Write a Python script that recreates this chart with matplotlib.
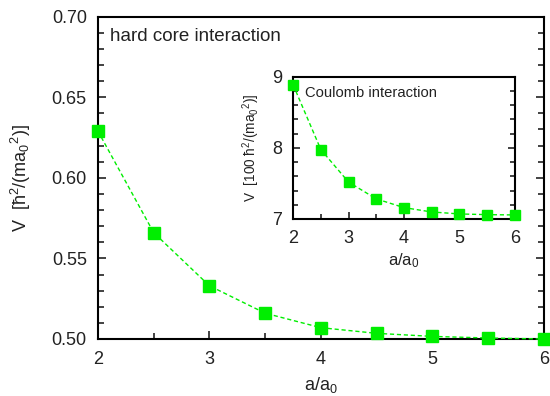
import matplotlib
matplotlib.use("Agg")
import matplotlib.pyplot as plt
from matplotlib.ticker import MultipleLocator

plt.rcParams["font.family"] = ["Liberation Sans", "DejaVu Sans"]
plt.rcParams["mathtext.fontset"] = "custom"
plt.rcParams["mathtext.rm"] = "Liberation Sans"
plt.rcParams["mathtext.it"] = "Liberation Sans"

# lattice spacing a/a0
a_ratio = [2.0, 2.5, 3.0, 3.5, 4.0, 4.5, 5.0, 5.5, 6.0]
# hard core potential depth
v_hard = [0.629, 0.566, 0.533, 0.516, 0.507, 0.5035, 0.5016, 0.5006, 0.5000]
# coulomb potential depth, in units of 100
v_coul = [8.887, 7.976, 7.519, 7.283, 7.160, 7.099, 7.071, 7.061, 7.057]

GREEN = "#00ee00"
INK = "#222222"

fig = plt.figure(figsize=(5.5, 3.96), dpi=100)
ax = fig.add_axes([0.178, 0.144, 0.811, 0.814])

ax.plot(a_ratio, v_hard, ls=(0, (3, 2)), lw=1.0, color=GREEN,
        marker="s", ms=9, mec=GREEN, mfc=GREEN, clip_on=False, zorder=3)
ax.set_xlim(2, 6)
ax.set_ylim(0.5, 0.7)
ax.xaxis.set_major_locator(MultipleLocator(1))
ax.xaxis.set_minor_locator(MultipleLocator(0.5))
ax.yaxis.set_major_locator(MultipleLocator(0.05))
ax.yaxis.set_minor_locator(MultipleLocator(0.01))
ax.yaxis.set_major_formatter(plt.FormatStrFormatter("%.2f"))
ax.tick_params(which="both", direction="in", right=True, top=False,
               labelsize=13, colors=INK)
ax.tick_params(axis="x", pad=9)
ax.tick_params(axis="y", pad=8)
ax.tick_params(which="major", length=6, width=1.2)
ax.tick_params(which="minor", length=4, width=1.2)
for s in ax.spines.values():
    s.set_linewidth(1.5)
ax.set_xlabel("a/a$_0$", fontsize=13, color=INK, labelpad=5)
ax.set_ylabel("V  [ħ$^2$/(ma$_0$$^2$)]", fontsize=13, color=INK, labelpad=13)
ax.text(0.027, 0.925, "hard core interaction", transform=ax.transAxes,
        fontsize=13.5, va="baseline", ha="left", color=INK)

ins = fig.add_axes([0.533, 0.447, 0.403, 0.359])
ins.plot(a_ratio, v_coul, ls=(0, (3, 2)), lw=1.0, color=GREEN,
         marker="s", ms=6.5, mec=GREEN, mfc=GREEN, clip_on=False, zorder=3)
ins.set_xlim(2, 6)
ins.set_ylim(7, 9)
ins.xaxis.set_major_locator(MultipleLocator(1))
ins.xaxis.set_minor_locator(MultipleLocator(0.5))
ins.yaxis.set_major_locator(MultipleLocator(1))
ins.yaxis.set_minor_locator(MultipleLocator(0.2))
ins.tick_params(which="both", direction="in", right=True, top=False,
                labelsize=13, colors=INK)
ins.tick_params(axis="x", pad=8)
ins.tick_params(axis="y", pad=8)
ins.tick_params(which="major", length=5, width=1.2)
ins.tick_params(which="minor", length=3.5, width=1.2)
for s in ins.spines.values():
    s.set_linewidth(1.5)
ins.set_xlabel("a/a$_0$", fontsize=12, color=INK, labelpad=3)
ins.set_ylabel("V  [100 ħ$^2$/(ma$_0$$^2$)]", fontsize=9.8, color=INK, labelpad=7)
ins.text(0.053, 0.859, "Coulomb interaction", transform=ins.transAxes,
         fontsize=10.6, va="baseline", ha="left", color=INK)

fig.savefig("out.png", dpi=100)
